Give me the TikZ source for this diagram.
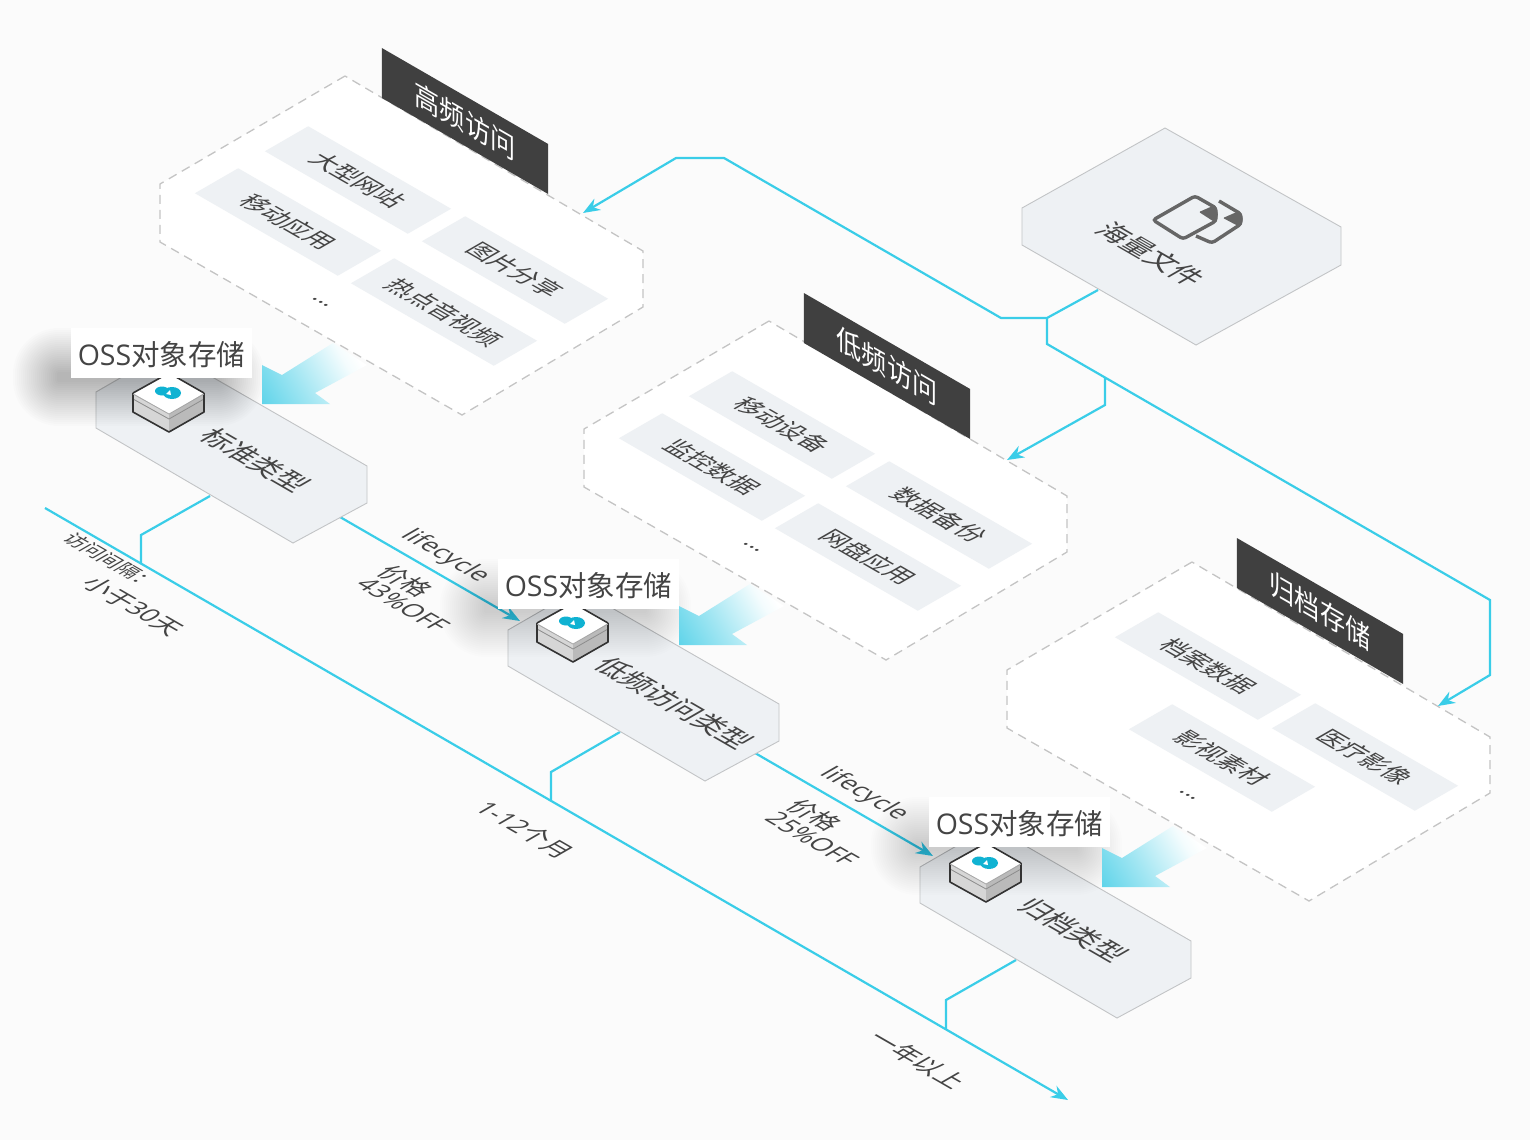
\documentclass[tikz,border=0pt]{standalone}
\usepackage{fontspec}
\setmainfont{Noto Sans CJK SC}
\newfontfamily\latinfont{Open Sans}
\usetikzlibrary{arrows.meta}

\definecolor{pagebg}{HTML}{FBFBFB}
\definecolor{panelgray}{HTML}{EEF1F4}
\definecolor{panelline}{HTML}{C2C4C6}
\definecolor{dashgray}{HTML}{C4C4C4}
\definecolor{linkcyan}{HTML}{3ACDE8}
\definecolor{fadecyan}{HTML}{45CDE6}
\definecolor{darkband}{HTML}{404040}
\definecolor{txtgray}{HTML}{444444}
\definecolor{cloudcyan}{HTML}{10B2D2}

\pgfdeclarehorizontalshading{arrowfade}{100bp}{color(0bp)=(fadecyan);color(6bp)=(fadecyan);color(40bp)=(fadecyan!50!white);color(68bp)=(fadecyan!6!white);color(76bp)=(white);color(100bp)=(white)}

\tikzstyle{isofig}=[x=1pt,y=-1pt]
\tikzstyle{isotext}=[cm={.866,-.5,.866,.5,(0,0)},inner sep=0pt,text=txtgray]
\tikzstyle{tile}=[isotext,fill=panelgray,minimum width=165pt,minimum height=50pt,font=\fontsize{24.5}{30}\selectfont]
\tikzstyle{band}=[cm={.866,-.5,0,1,(0,0)},inner sep=0pt,fill=darkband,text=white,minimum width=192pt,minimum height=50pt,font=\fontsize{29}{34}\selectfont]
\tikzstyle{typename}=[isotext,font=\fontsize{28}{36}\selectfont]
\tikzstyle{note}=[isotext,font=\fontsize{25}{25}\selectfont,align=left]
\tikzstyle{ossbox}=[fill=white,inner sep=0pt,minimum width=181pt,minimum height=50pt,text height=26pt,text depth=2pt,text=txtgray,font=\fontsize{28.5}{32}\selectfont]
\tikzstyle{hex}=[fill=panelgray,draw=panelline,line width=.9pt]
\tikzstyle{zone}=[fill=white,draw=dashgray,line width=1.3pt,dash pattern=on 9pt off 6pt]
\tikzstyle{link}=[linkcyan,line width=2.2pt]
\tikzstyle{linkarrow}=[link,-{Stealth[length=17pt,width=13pt]}]

\begin{document}
\begin{tikzpicture}[style=isofig]
\useasboundingbox (0,0) rectangle (1530,1140);
\fill [pagebg] (0,0) rectangle (1530,1140);

% access zones
\foreach \ox/\oy in {0/0,424/245,847/486}{
  \draw [zone,shift={(\ox,\oy)}] (345,76) -- (160,184) -- (160,242) -- (462,415) -- (643,307) -- (643,251) -- cycle;
}

\node [band] (highband) at (465,121) {高频访问};
\node [band] (lowband) at (887,366) {低频访问};
\node [band] (archband) at (1320,611) {归档存储};

\node [tile] (website) at (358,180) {大型网站};
\node [tile] (mobileapp) at (288,222) {移动应用};
\node [tile] (photos) at (515,270) {图片分享};
\node [tile] (media) at (444,312) {热点音视频};
\node [isotext,font=\fontsize{22}{24}\selectfont] (moreone) at (321,302) {...};

\node [tile] (device) at (782,425) {移动设备};
\node [tile] (monitor) at (712,467) {监控数据};
\node [tile] (backup) at (939,515) {数据备份};
\node [tile] (netdisk) at (868,557) {网盘应用};
\node [isotext,font=\fontsize{22}{24}\selectfont] (moretwo) at (752,547) {...};

\node [tile] (records) at (1208,666) {档案数据};
\node [tile] (footage) at (1222,758) {影视素材};
\node [tile] (imaging) at (1365,757) {医疗影像};
\node [isotext,font=\fontsize{22}{24}\selectfont] (morethree) at (1188,795) {...};

% connector ends
\coordinate (filesfoot) at (1098,290);
\coordinate (highin) at (583,213);
\coordinate (lowin) at (1007,460);
\coordinate (archin) at (1438,706);
\coordinate (branch) at (1105,378);
\coordinate (stdfoot) at (210,496);
\coordinate (lowfoot) at (620,732);
\coordinate (archfoot) at (1016,960);
\coordinate (stdside) at (340,517);
\coordinate (lowside) at (755,753);
\coordinate (lowtop) at (520,621);
\coordinate (archtop) at (933,856);
\coordinate (tlstart) at (45,508);
\coordinate (tlend) at (1068,1100);
\coordinate (tlone) at (141,564);
\coordinate (tltwo) at (551,801);
\coordinate (tlthree) at (946,1029);

\draw [linkarrow] (filesfoot) -- (1047,318) -- (1001,318) -- (724,158) -- (676,158) -- (highin);
\draw [linkarrow] (1047,318) -- (1047,344) -- (1490,600) -- (1490,675) -- (archin);
\draw [linkarrow] (branch) -- (1105,405) -- (lowin);
\draw [linkarrow] (tlstart) -- (tlend);
\draw [link] (stdfoot) -- (141,535) -- (tlone);
\draw [link] (lowfoot) -- (551,772) -- (tltwo);
\draw [link] (archfoot) -- (946,1000) -- (tlthree);
\draw [linkarrow] (stdside) -- (lowtop);
\draw [linkarrow] (lowside) -- (archtop);

% file panel
\draw [hex] (1165,128) -- (1022,208) -- (1022,245) -- (1196,345) -- (1341,265) -- (1341,227) -- cycle;
\draw [draw=black!60,line width=3.4pt,rounded corners=3pt] (1216,221) -- (1183,239) -- (1153,220) -- (1195,196) -- (1216,208) -- cycle;
\fill [black!60,rounded corners=1pt] (1199,212) -- (1215,205) -- (1218,214) -- (1216,223) -- cycle;
\draw [draw=black!60,line width=3.4pt,rounded corners=3pt] (1219,201) -- (1241,214) -- (1241,224) -- (1212,243) -- (1196,236);
\fill [black!60,rounded corners=1pt] (1223,218) -- (1239,211) -- (1243,219) -- (1240,227) -- cycle;
\node [typename] (files) at (1151,254) {海量文件};

% storage type panels
\foreach \ox/\oy in {0/0,412/238,824/475}{
  \draw [hex,shift={(\ox,\oy)}] (167,351) -- (96,392) -- (96,428) -- (293,543) -- (367,503) -- (367,466) -- cycle;
}
\node [typename] (stdname) at (255,460) {标准类型};
\node [typename] (lowname) at (674,703) {低频访问类型};
\node [typename] (archname) at (1073,930) {归档类型};

% soft shadows under the labels
\foreach \ox/\oy/\op in {0/0/.011,427/231/.008,858/469/.008}{
  \begin{scope}[shift={(\ox,\oy)}]
    \foreach \i in {1,...,23}{
      \pgfmathsetmacro{\dd}{2*\i-12}
      \pgfmathsetmacro{\rr}{\dd+12}
      \fill [black,opacity=\op,rounded corners=\rr pt] (47-\dd,362-\dd) rectangle (230+\dd,392+\dd);
    }
  \end{scope}
}

% gradient arrows
\foreach \ox/\oy in {0/0,417/241,840/483}{
  \shade [shift={(\ox,\oy)},shading=arrowfade,shading angle=30]
    (262,404) -- (262,365) -- (282,375) -- (333,343) -- (367,365) -- (315,393) -- (330,404) -- cycle;
}

% stacked boxes
\foreach \ox/\oy in {0/0,404/230,817/470}{
  \begin{scope}[shift={(\ox,\oy)}]
    \fill [black!16] (133,393) -- (133,412) -- (169,432) -- (169,414) -- cycle;
    \fill [black!27] (204,393) -- (204,412) -- (169,432) -- (169,414) -- cycle;
    \draw [black!45,line width=.8pt] (133,399) -- (169,419) -- (204,399);
    \fill [white] (133,393) -- (169,373) -- (204,393) -- (169,414) -- cycle;
    \draw [black!80,line width=1.6pt,line join=round] (204,393) -- (204,412) -- (169,432) -- (133,412) -- (133,393);
    \draw [black!80,line width=1.6pt,line join=round] (133,393) -- (169,373) -- (204,393);
    \draw [black!35,line width=.8pt] (133,394) -- (169,414) -- (204,394);
    \fill [cloudcyan] (162,391) ellipse (7pt and 4.5pt);
    \fill [cloudcyan] (172,393) ellipse (9pt and 6pt);
    \fill [white] (166,394) -- (170,390) -- (171,395) -- cycle;
  \end{scope}
}

\node [ossbox] (ossone) at (161.5,353) {{\latinfont OSS}对象存储};
\node [ossbox] (osstwo) at (588.5,584) {{\latinfont OSS}对象存储};
\node [ossbox] (ossthree) at (1019.5,822) {{\latinfont OSS}对象存储};

% timeline and lifecycle labels
\node [isotext,font=\fontsize{20}{24}\selectfont] (interval) at (111,561) {访问间隔：};
\node [note] (monthone) at (133,606) {小于{\latinfont 30}天};
\node [note] (monthtwo) at (525,830) {{\latinfont 1-12}个月};
\node [note] (monththree) at (918,1060) {一年以上};
\node [note] (lifeone) at (445,556) {\latinfont lifecycle};
\node [note] (lifetwo) at (864,794) {\latinfont lifecycle};
\node [note] (priceone) at (415,598) {价格\\{\latinfont 43\%OFF}};
\node [note] (pricetwo) at (824,832) {价格\\{\latinfont 25\%OFF}};
\end{tikzpicture}
\end{document}
